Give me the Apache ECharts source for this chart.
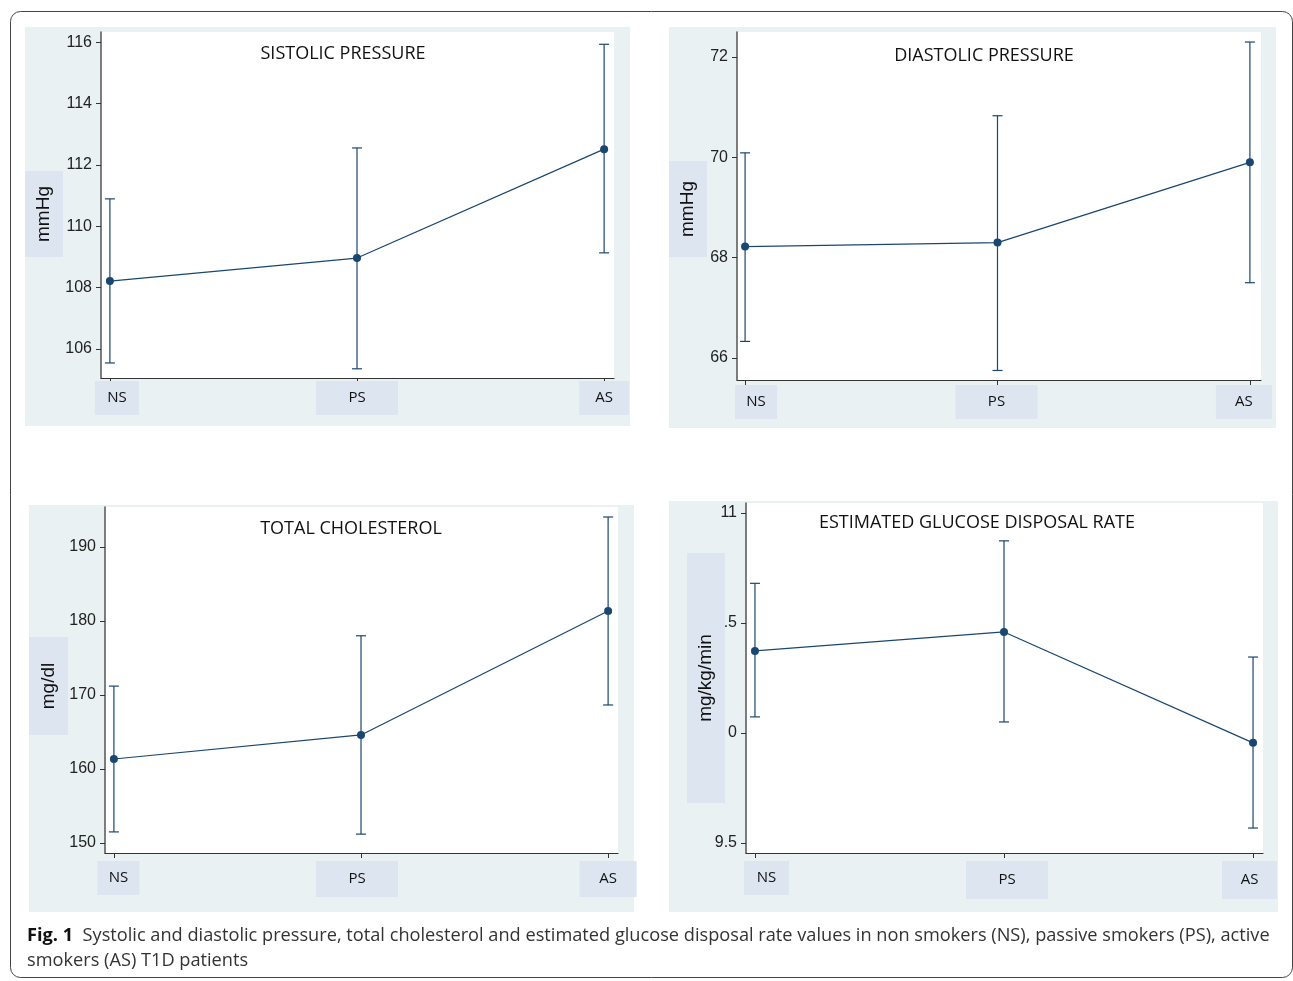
<!DOCTYPE html>
<html><head><meta charset="utf-8">
<script src="https://cdn.jsdelivr.net/npm/echarts@6/dist/echarts.min.js"></script>
<style>html,body{margin:0;padding:0;background:#fff}#c{width:1293px;height:981px}</style>
</head><body><div id="c"></div>
<script>
// ---- data ----
const categories = ['NS', 'PS', 'AS'];
const catPos = [0, 1, 2];

const sysMean  = [108.21, 108.96, 112.51];
const sysLow   = [105.54, 105.35, 109.13];
const sysHigh  = [110.89, 112.55, 115.93];
const sysTicks = [106, 108, 110, 112, 114, 116];
const sysTickLabels = ['106', '108', '110', '112', '114', '116'];

const diaMean  = [68.22, 68.30, 69.90];
const diaLow   = [66.33, 65.75, 67.50];
const diaHigh  = [70.09, 70.83, 72.30];
const diaTicks = [66, 68, 70, 72];
const diaTickLabels = ['66', '68', '70', '72'];

const cholMean  = [161.35, 164.6, 181.35];
const cholLow   = [151.5, 151.2, 168.65];
const cholHigh  = [171.2, 178.0, 194.05];
const cholTicks = [150, 160, 170, 180, 190];
const cholTickLabels = ['150', '160', '170', '180', '190'];

const gluMean  = [10.373, 10.459, 9.955];
const gluLow   = [10.073, 10.050, 9.568];
const gluHigh  = [10.680, 10.873, 10.345];
const gluTicks = [9.5, 10, 10.5, 11];
const gluTickLabels = ['9.5', '0', '.5', '11'];

const titles = ['SISTOLIC PRESSURE', 'DIASTOLIC PRESSURE', 'TOTAL CHOLESTEROL', 'ESTIMATED GLUCOSE DISPOSAL RATE'];
const yNames = ['mmHg', 'mmHg', 'mg/dl', 'mg/kg/min'];
const captionBold = 'Fig. 1';
const captionText1 = 'Systolic and diastolic pressure, total cholesterol and estimated glucose disposal rate values in non smokers (NS), passive smokers (PS), active';
const captionText2 = 'smokers (AS) T1D patients';

// ---- layout ----
const LINE = '#1a476f';
const PANEL_BG = '#eaf1f3';
const BOX_BG = '#dce5f0';
const panels = [
  {bg:[25,27,605,399], grid:{left:101,top:32,width:513,height:346}, x:[-0.036,2.04], y:[105.05,116.33],
   ticks:sysTicks, tl:sysTickLabels, m:sysMean, lo:sysLow, hi:sysHigh, title:[338,49], ybox:[25,171,38,86],
   boxes:[[44,34],[82,34],[50,34]], shift:[7,0,0], lm:3},
  {bg:[669,27,607,401], grid:{left:737,top:32,width:524,height:348}, x:[-0.032,2.044], y:[65.56,72.5],
   ticks:diaTicks, tl:diaTickLabels, m:diaMean, lo:diaLow, hi:diaHigh, title:[979,51], ybox:[669,161,38,96],
   boxes:[[42,34],[82,34],[56,34]], shift:[11,-1,-6], lm:5},
  {bg:[29,505,605,407], grid:{left:105,top:507,width:513,height:346}, x:[-0.036,2.04], y:[148.65,195.4],
   ticks:cholTicks, tl:cholTickLabels, m:cholMean, lo:cholLow, hi:cholHigh, title:[346,524], ybox:[29,637,39,98],
   boxes:[[42,34],[82,36],[57,36]], shift:[4.5,-4,0], lm:8},
  {bg:[669,501,609,411], grid:{left:746,top:503,width:517,height:350}, x:[-0.036,2.04], y:[9.4545,11.045],
   ticks:gluTicks, tl:gluTickLabels, m:gluMean, lo:gluLow, hi:gluHigh, title:[972,518], ybox:[687,553,38,250],
   boxes:[[45,34],[82,38],[55,38]], shift:[11.5,3,-3.5], lm:8}
];

const grids = [], xAxes = [], yAxes = [], series = [], titleComps = [], graphics = [];

// outer frame
graphics.push({type:'rect', z:-10, shape:{x:10.5,y:11.5,width:1282,height:966,r:10},
  style:{fill:'#fff', stroke:'#444', lineWidth:1}});

panels.forEach((p, i) => {
  graphics.push({type:'rect', z:-5, shape:{x:p.bg[0],y:p.bg[1],width:p.bg[2],height:p.bg[3]}, style:{fill:PANEL_BG}});
  graphics.push({type:'rect', z:-4, shape:{x:p.ybox[0],y:p.ybox[1],width:p.ybox[2],height:p.ybox[3]}, style:{fill:BOX_BG}});
  graphics.push({type:'text', z:5, x:p.ybox[0]+p.ybox[2]/2, y:p.ybox[1]+p.ybox[3]/2, rotation:Math.PI/2,
    style:{text:yNames[i], fill:'#111', font:'19px "Liberation Sans", Arial, sans-serif', align:'center', verticalAlign:'middle'}});
  grids.push(Object.assign({show:true, backgroundColor:'#fff', borderWidth:0}, p.grid));
  const rich = {};
  categories.forEach((c, k) => {
    rich['c'+k] = {backgroundColor:BOX_BG, width:p.boxes[k][0], height:p.boxes[k][1], lineHeight:p.boxes[k][1],
      align:'center', verticalAlign:'middle', fontFamily:'"Open Sans", sans-serif', fontSize:15, color:'#111'};
    rich['s'+k] = {width:Math.abs(p.shift[k])*2, height:p.boxes[k][1], lineHeight:p.boxes[k][1]};
  });
  const fmt = v => {
    const k = Math.round(v);
    const box = '{c'+k+'|'+categories[k]+'}';
    const d = p.shift[k];
    if (d > 0) return '{s'+k+'|}' + box;
    if (d < 0) return box + '{s'+k+'|}';
    return box;
  };
  xAxes.push({type:'value', gridIndex:i, min:p.x[0], max:p.x[1],
    axisLine:{show:true, onZero:false, lineStyle:{color:'#333', width:1.2}},
    axisTick:{show:true, customValues:catPos, length:5, lineStyle:{color:'#333'}},
    axisLabel:{customValues:catPos, margin:p.lm, formatter:fmt, rich:rich},
    splitLine:{show:false}});
  const tickMap = {};
  p.ticks.forEach((t, k) => tickMap[t] = p.tl[k]);
  yAxes.push({type:'value', gridIndex:i, min:p.y[0], max:p.y[1],
    axisLine:{show:true, onZero:false, lineStyle:{color:'#555', width:1.5}},
    axisTick:{show:true, customValues:p.ticks, length:5, lineStyle:{color:'#333'}},
    axisLabel:{customValues:p.ticks, margin:9, formatter:v => (tickMap[v] !== undefined ? tickMap[v] : ''),
      fontFamily:'"Liberation Sans", Arial, sans-serif', fontSize:16, color:'#222'},
    splitLine:{show:false}});
  titleComps.push({text:titles[i], left:p.title[0], top:p.title[1], textAlign:'center', textVerticalAlign:'middle',
    textStyle:{fontFamily:'"Open Sans", sans-serif', fontWeight:'normal', fontSize:18, color:'#111'}});
  const errData = catPos.map((x, k) => [x, p.lo[k], p.hi[k]]);
  series.push({type:'custom', xAxisIndex:i, yAxisIndex:i, data:errData, z:3,
    renderItem:(params, api) => {
      const x = api.value(0);
      const lo = api.coord([x, api.value(1)]);
      const hi = api.coord([x, api.value(2)]);
      const w = 5;
      const st = {stroke:LINE, lineWidth:1.2};
      return {type:'group', children:[
        {type:'line', shape:{x1:lo[0],y1:lo[1],x2:hi[0],y2:hi[1]}, style:st},
        {type:'line', shape:{x1:lo[0]-w,y1:lo[1],x2:lo[0]+w,y2:lo[1]}, style:st},
        {type:'line', shape:{x1:hi[0]-w,y1:hi[1],x2:hi[0]+w,y2:hi[1]}, style:st}
      ]};
    }});
  series.push({type:'line', xAxisIndex:i, yAxisIndex:i, data:catPos.map((x, k) => [x, p.m[k]]), z:4,
    symbol:'circle', symbolSize:8, itemStyle:{color:LINE}, lineStyle:{color:LINE, width:1.2}, animation:false});
});

graphics.push({type:'text', x:27, y:923, style:{
  text:'{b|'+captionBold+'}  '+captionText1+'\n'+captionText2,
  font:'18.2px "Open Sans", sans-serif', fill:'#333', lineHeight:25, verticalAlign:'top',
  rich:{b:{fontWeight:'bold', fontFamily:'"Open Sans", sans-serif', fontSize:18.2, fill:'#111'}}}});

const chart = echarts.init(document.getElementById('c'), null, {renderer:'canvas'});
chart.setOption({animation:false, title:titleComps, grid:grids, xAxis:xAxes, yAxis:yAxes, series:series,
  graphic:graphics, tooltip:{show:false}});
</script></body></html>
